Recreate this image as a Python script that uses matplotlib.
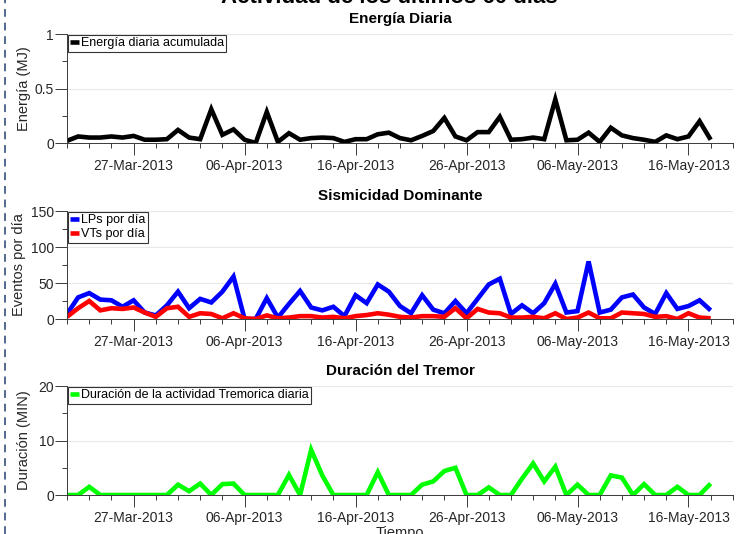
import matplotlib
matplotlib.use("Agg")
import matplotlib.pyplot as plt
import matplotlib.dates as mdates
import pandas as pd
from matplotlib.lines import Line2D

plt.rcParams["font.family"] = ["Liberation Sans", "DejaVu Sans"]

start = "2013-03-21"
energia = [0.02, 0.06, 0.05, 0.05, 0.06, 0.05, 0.065, 0.03, 0.03, 0.035,
           0.12, 0.05, 0.035, 0.31, 0.075, 0.125, 0.03, 0.0, 0.285, 0.01,
           0.09, 0.03, 0.045, 0.05, 0.045, 0.01, 0.035, 0.035, 0.08, 0.095,
           0.045, 0.025, 0.065, 0.11, 0.23, 0.06, 0.025, 0.10, 0.10, 0.24,
           0.03, 0.035, 0.05, 0.035, 0.40, 0.025, 0.03, 0.095, 0.01, 0.14,
           0.07, 0.045, 0.03, 0.01, 0.07, 0.035, 0.06, 0.20, 0.03]
lps = [7, 30, 36, 27, 26, 17, 26, 9, 5, 19,
       38, 15, 28, 23, 38, 59, 0, 0, 29, 2,
       21, 39, 16, 12, 17, 4, 33, 22, 48, 38,
       18, 8, 33, 13, 8, 25, 8, 28, 48, 56,
       7, 19, 8, 22, 49, 9, 11, 80, 9, 13,
       30, 34, 16, 7, 36, 14, 18, 26, 12]
vts = [3, 15, 25, 12, 15, 14, 16, 9, 3, 15,
       17, 3, 8, 7, 1, 8, 1, 0, 5, 1,
       2, 4, 4, 2, 3, 1, 4, 5.5, 8, 6,
       3, 2, 4, 4, 3, 15, 1, 14, 9, 8,
       2, 2, 3, 1, 8, 0, 2, 9, 1, 1,
       9, 8, 7, 3, 4, 0, 8, 2, 1]
tremor = [0, 0, 1.5, 0, 0, 0, 0, 0, 0, 0,
          1.9, 0.7, 2.1, 0, 2.0, 2.1, 0, 0, 0, 0,
          3.7, 0, 8.3, 3.6, 0, 0, 0, 0, 4.2, 0,
          0, 0, 1.9, 2.5, 4.4, 5.0, 0, 0, 1.4, 0,
          0, 3.0, 5.8, 2.5, 5.2, 0, 1.9, 0, 0, 3.6,
          3.2, 0, 2.0, 0, 0, 1.5, 0, 0, 2.1]

dates = pd.date_range(start, periods=len(energia), freq="D")
xmin = pd.Timestamp("2013-03-21")
xmax = pd.Timestamp("2013-05-20")
major_days = pd.date_range("2013-03-27", "2013-05-16", freq="10D")
minor_days = pd.date_range("2013-03-21", "2013-05-20", freq="2D")

axis_col = "#3a3a3a"
grid_col = "#e8e8e8"

fig = plt.figure(figsize=(7.39, 5.34), dpi=100)

panels = [
    dict(pos=[0.0907, 0.7322, 0.901, 0.2041], title="Energía Diaria",
         ylabel="Energía (MJ)", ylim=(0, 1), major=0.5, minor=0.25,
         labx=-0.054,
         series=[(energia, "k", "Energía diaria acumulada")]),
    dict(pos=[0.0907, 0.4026, 0.901, 0.2022], title="Sismicidad Dominante",
         ylabel="Eventos por día", ylim=(0, 150), major=50, minor=25,
         labx=-0.062,
         series=[(lps, "#0000ff", "LPs por día"),
                 (vts, "#ff0000", "VTs por día")]),
    dict(pos=[0.0907, 0.0730, 0.901, 0.2041], title="Duración del Tremor",
         ylabel="Duración (MIN)", ylim=(0, 20), major=10, minor=5,
         labx=-0.054,
         series=[(tremor, "#00ff00", "Duración de la actividad Tremorica diaria")]),
]

for i, p in enumerate(panels):
    ax = fig.add_axes(p["pos"])
    for vals, col, lab in p["series"]:
        ax.plot(dates, vals, color=col, lw=3.3, label=lab,
                solid_joinstyle="miter", solid_capstyle="butt")
    ax.set_xlim(xmin, xmax)
    ax.set_ylim(*p["ylim"])
    ax.yaxis.set_major_locator(plt.MultipleLocator(p["major"]))
    ax.yaxis.set_minor_locator(plt.MultipleLocator(p["minor"]))
    ax.yaxis.set_major_formatter(plt.FuncFormatter(lambda v, _: f"{v:g}"))
    ax.set_xticks(mdates.date2num(major_days))
    ax.set_xticks(mdates.date2num(minor_days), minor=True)
    ax.xaxis.set_major_formatter(mdates.DateFormatter("%d-%b-%Y"))

    for s in ["top", "right"]:
        ax.spines[s].set_visible(False)
    for s in ["left", "bottom"]:
        ax.spines[s].set_color(axis_col)
        ax.spines[s].set_linewidth(0.7)
    ax.tick_params(which="major", direction="out", length=8.5, width=0.7,
                   color=axis_col, labelcolor="#262626", labelsize=10)
    ax.tick_params(which="minor", direction="out", length=3.6, width=0.7,
                   color=axis_col)
    ax.tick_params(axis="y", pad=0.8)
    ax.tick_params(axis="x", pad=3)
    ax.grid(axis="y", which="major", color=grid_col, lw=0.8)
    ax.set_axisbelow(True)

    ax.set_title(p["title"], fontsize=11, fontweight="bold", pad=8)
    ax.set_ylabel(p["ylabel"], fontsize=10.5, color="#262626")
    ax.yaxis.set_label_coords(p["labx"], 0.5)

    leg = ax.legend(loc="upper left", fontsize=9, frameon=True, fancybox=False,
                    borderaxespad=0.05, borderpad=0.2, handlelength=0.7,
                    handletextpad=0.15, labelspacing=0.15)
    leg.get_frame().set_edgecolor("#000000")
    leg.get_frame().set_linewidth(0.8)

    if i == 2:
        ax.set_xlabel("Tiempo", fontsize=10.5, color="#262626", labelpad=1)

fig.text(0.527, 0.994, "Actividad de los últimos 60 días", ha="center",
         va="baseline", fontsize=16, fontweight="bold")

fig.add_artist(Line2D([0.0068, 0.0068], [0, 1], transform=fig.transFigure,
                      color="#52698f", lw=1.4, ls=(0, (4, 3))))

fig.savefig("out.png", dpi=100)
